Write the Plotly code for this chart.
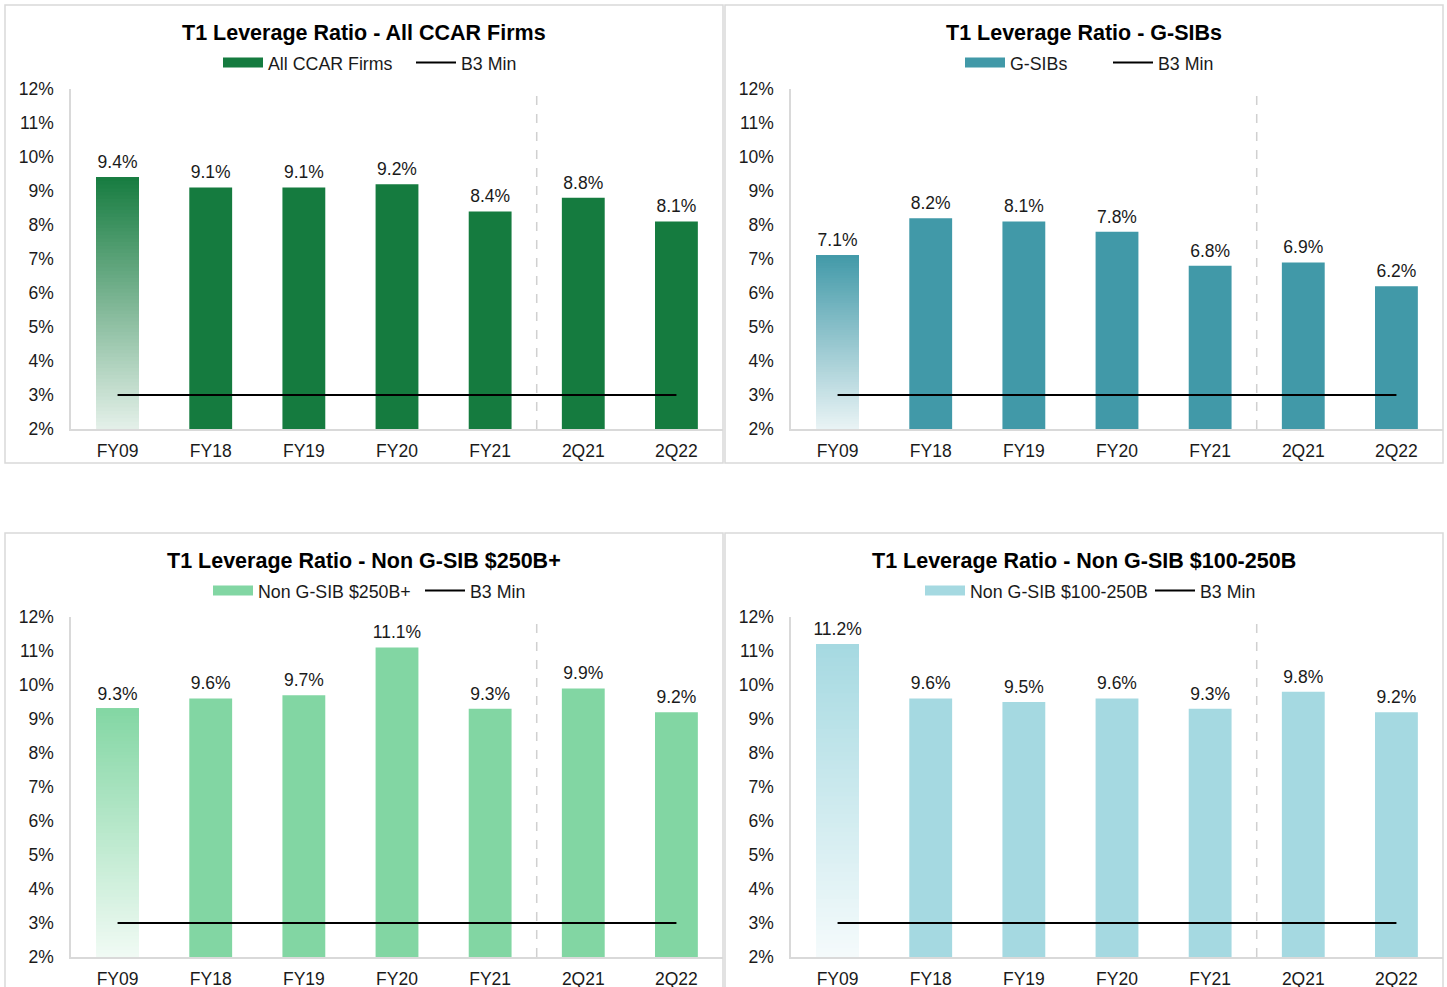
import plotly.graph_objects as go

# data
categories = ['FY09', 'FY18', 'FY19', 'FY20', 'FY21', '2Q21', '2Q22']

all_ccar = [9.4, 9.1, 9.1, 9.2, 8.4, 8.8, 8.1]
gsibs = [7.1, 8.2, 8.1, 7.8, 6.8, 6.9, 6.2]
non_gsib_250 = [9.3, 9.6, 9.7, 11.1, 9.3, 9.9, 9.2]
non_gsib_100_250 = [11.2, 9.6, 9.5, 9.6, 9.3, 9.8, 9.2]

b3_min = [3.0] * len(categories)

FONT = 'Liberation Sans, Arial, sans-serif'
W, H = 1447, 987

panels = [
    # title, series name, values, colour, panel box in px (l, t, r, b), legend start px, first entry width
    ('T1 Leverage Ratio - All CCAR Firms', 'All CCAR Firms', all_ccar, (21, 123, 63), (5, 5, 723, 463), 223, 193),
    ('T1 Leverage Ratio - G-SIBs', 'G-SIBs', gsibs, (65, 153, 168), (725, 5, 1443, 463), 965, 148),
    ('T1 Leverage Ratio - Non G-SIB $250B+', 'Non G-SIB $250B+', non_gsib_250, (130, 214, 163), (5, 533, 723, 1000), 213, 212),
    ('T1 Leverage Ratio - Non G-SIB $100-250B', 'Non G-SIB $100-250B', non_gsib_100_250, (165, 217, 225), (725, 533, 1443, 1000), 925, 230),
]


def rgb(c):
    return 'rgb(%d,%d,%d)' % c


def mix_white(c, f):
    return tuple(round(v + (255 - v) * f) for v in c)


fig = go.Figure()
layout = {}
shapes = []
annotations = []

for i, (title, name, vals, col, box, leg_x, leg_w) in enumerate(panels):
    n = i + 1
    xa = 'x' if n == 1 else 'x%d' % n
    ya = 'y' if n == 1 else 'y%d' % n
    lg = 'legend' if n == 1 else 'legend%d' % n
    left, top, right, bottom = box

    # plot area in pixels
    px0, px1 = left + 66, right
    py_top, py_bot = top + 84, top + 424

    # main bars (first bar gets a gradient below)
    colors = ['rgba(0,0,0,0)'] + [rgb(col)] * (len(vals) - 1)
    fig.add_trace(go.Bar(
        x=categories, y=vals, marker=dict(color=colors, line=dict(width=0)),
        xaxis=xa, yaxis=ya, showlegend=False, hoverinfo='skip'
    ))

    # gradient fill for the first bar
    nseg = 70
    lo_vals = [2 + (vals[0] - 2) * k / nseg for k in range(nseg)]
    seg_cols = [rgb(mix_white(col, 0.88 * (1 - k / nseg))) for k in range(nseg)]
    fig.add_trace(go.Bar(
        x=[categories[0]] * nseg, base=lo_vals, y=[vals[0] - b for b in lo_vals],
        marker=dict(color=seg_cols, line=dict(width=0)),
        xaxis=xa, yaxis=ya, showlegend=False, hoverinfo='skip'
    ))

    # data labels
    fig.add_trace(go.Scatter(
        x=categories, y=vals, mode='markers+text',
        text=['%.1f%%' % v for v in vals], textposition='top center',
        textfont=dict(size=17.5, color='#1a1a1a', family=FONT),
        marker=dict(size=6, opacity=0), cliponaxis=False,
        xaxis=xa, yaxis=ya, showlegend=False, hoverinfo='skip'
    ))

    # B3 minimum line
    fig.add_trace(go.Scatter(
        x=categories, y=b3_min, mode='lines', name='B3 Min',
        line=dict(color='black', width=2),
        xaxis=xa, yaxis=ya, legend=lg, legendrank=2, hoverinfo='skip'
    ))

    # legend entry for the bars
    fig.add_trace(go.Scatter(
        x=[None], y=[None], mode='lines', name=name,
        line=dict(color=rgb(col), width=10),
        xaxis=xa, yaxis=ya, legend=lg, legendrank=1
    ))

    layout['xaxis' if n == 1 else 'xaxis%d' % n] = dict(
        domain=[px0 / W, px1 / W], anchor=ya, type='category',
        showline=True, linecolor='#d9d9d9', linewidth=1.5, ticks='',
        tickfont=dict(size=17.5, color='#1a1a1a'), ticklabelstandoff=5,
        showgrid=False, fixedrange=True
    )
    layout['yaxis' if n == 1 else 'yaxis%d' % n] = dict(
        domain=[1 - py_bot / H, 1 - py_top / H], anchor=xa,
        range=[2, 12], dtick=1, ticksuffix='%',
        showline=True, linecolor='#d9d9d9', linewidth=1.5, ticks='',
        tickfont=dict(size=17.5, color='#1a1a1a'), ticklabelstandoff=12,
        showgrid=False, zeroline=False, fixedrange=True
    )
    layout[lg] = dict(
        orientation='h', x=(leg_x - 5) / W, y=1 - (top + 58) / H,
        xanchor='left', yanchor='middle', font=dict(size=17.8, color='#1a1a1a'),
        bgcolor='rgba(0,0,0,0)', itemwidth=40, traceorder='normal',
        entrywidth=leg_w - 55
    )

    # panel border
    shapes.append(dict(
        type='rect', xref='paper', yref='paper',
        x0=left / W, x1=right / W, y0=1 - bottom / H, y1=1 - top / H,
        line=dict(color='#d9d9d9', width=1.5), layer='below'
    ))
    # dashed divider between annual and quarterly figures
    shapes.append(dict(
        type='line', xref=xa, yref=ya + ' domain', x0=4.5, x1=4.5, y0=0, y1=0.995,
        line=dict(color='#d0d0d0', width=1.5, dash='dash')
    ))
    annotations.append(dict(
        text='<b>%s</b>' % title, xref='paper', yref='paper',
        x=(left + right) / 2 / W, y=1 - (top + 28) / H,
        xanchor='center', yanchor='middle', showarrow=False,
        font=dict(size=21.5, color='black', family=FONT)
    ))

fig.update_layout(
    width=W, height=H,
    margin=dict(l=0, r=0, t=0, b=0, autoexpand=False),
    paper_bgcolor='white', plot_bgcolor='white',
    font=dict(family=FONT, color='#1a1a1a'),
    barmode='overlay', bargap=0.54,
    shapes=shapes, annotations=annotations,
    **layout
)

fig.write_html('out.html', config={'displayModeBar': False},
               post_script="document.body.style.margin='0';")
